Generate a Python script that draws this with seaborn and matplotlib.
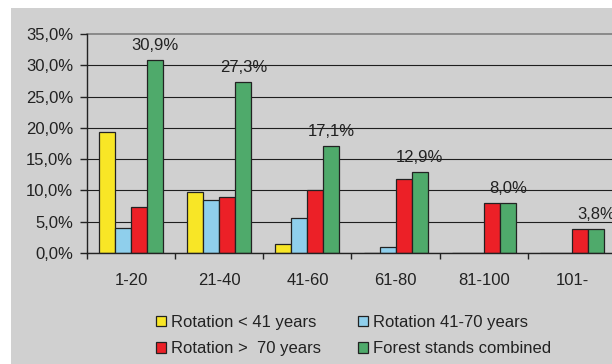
import matplotlib
matplotlib.use("Agg")
import matplotlib.pyplot as plt
import matplotlib.patches as mpatches
from matplotlib.ticker import FuncFormatter, FixedLocator
import seaborn as sns
import pandas as pd
import numpy as np

categories = ["1-20", "21-40", "41-60", "61-80", "81-100", "101-"]
series = ["Rotation < 41 years", "Rotation 41-70 years",
          "Rotation >  70 years", "Forest stands combined"]
rot_lt41 = [19.3, 9.7, 1.4, 0.0, 0.0, 0.0]
rot_41_70 = [4.0, 8.5, 5.6, 1.0, 0.0, 0.0]
rot_gt70 = [7.3, 8.9, 10.0, 11.8, 8.0, 3.8]
combined = [30.9, 27.3, 17.1, 12.9, 8.0, 3.8]
combined_labels = ["30,9%", "27,3%", "17,1%", "12,9%", "8,0%", "3,8%"]
colors = ["#f8e626", "#8fcfec", "#ec2027", "#4faa6b"]

values = [rot_lt41, rot_41_70, rot_gt70, combined]
df = pd.DataFrame({
    "cat": [c for s in series for c in categories],
    "series": [s for s in series for c in categories],
    "val": [v for vals in values for v in vals],
})

sns.set_theme(style="white")
plt.rcParams["font.family"] = ["Liberation Sans", "DejaVu Sans"]
FS = 12
BG = "#d0d0d0"

fig = plt.figure(figsize=(6.12, 3.64), dpi=100)
fig.patch.set_facecolor("white")
fig.patches.append(mpatches.Rectangle((11 / 612, 0), 1, 1 - 8 / 364,
                                      transform=fig.transFigure,
                                      facecolor=BG, edgecolor="none", zorder=-10))

ax = fig.add_axes([87 / 612, 1 - 253 / 364, (616 - 87) / 612, 219 / 364])
ax.set_facecolor(BG)

sns.barplot(data=df, x="cat", y="val", hue="series", order=categories,
            hue_order=series, palette=colors, width=0.727, gap=0,
            saturation=1, edgecolor="#222222", linewidth=0.9,
            legend=False, ax=ax, zorder=3)

ax.set_xlim(-0.5, 5.5)
ax.set_ylim(0, 35)
ax.set_xlabel("")
ax.set_ylabel("")

ax.yaxis.set_major_locator(FixedLocator(np.arange(0, 35.1, 5)))
ax.yaxis.set_major_formatter(FuncFormatter(lambda v, p: f"{v:.1f}".replace(".", ",") + "%"))
ax.xaxis.set_major_locator(FixedLocator(np.arange(-0.5, 6, 1)))
ax.xaxis.set_major_formatter(FuncFormatter(lambda v, p: ""))
ax.xaxis.set_minor_locator(FixedLocator(np.arange(0, 6, 1)))
ax.xaxis.set_minor_formatter(FuncFormatter(lambda v, p: categories[int(round(v))]))

ax.tick_params(axis="y", which="major", direction="out", length=5, width=1,
               color="#222222", pad=5, labelsize=FS, labelcolor="#222222", left=True)
ax.tick_params(axis="x", which="major", direction="out", length=4, width=1,
               color="#222222", bottom=True)
ax.tick_params(axis="x", which="minor", length=0, pad=14.5, labelsize=FS,
               labelcolor="#222222")

for s in ["top", "right"]:
    ax.spines[s].set_visible(False)
for s in ["left", "bottom"]:
    ax.spines[s].set_color("#222222")
    ax.spines[s].set_linewidth(1.0)
    ax.spines[s].set_zorder(5)

ax.set_axisbelow(True)
ax.grid(axis="y", color="#1e1e1e", linewidth=0.8)
ax.grid(axis="x", visible=False)
glines = ax.get_ygridlines()
glines[-1].set_color("#8a8a8a")
glines[-1].set_linewidth(1.4)
glines[-1].set_clip_on(False)

# labels above the combined bars
bar_w = 0.727 / 4
for i, (v, lab) in enumerate(zip(combined, combined_labels)):
    x = i - 0.727 / 2 + bar_w * 3.5
    ax.annotate(lab, (x, v), xytext=(0, 7), textcoords="offset pixels",
                ha="center", va="bottom", fontsize=FS, color="#222222",
                annotation_clip=False)

handles = [mpatches.Patch(facecolor=colors[k], edgecolor="#222222", linewidth=0.9)
           for k in [0, 2, 1, 3]]
labels = [series[k] for k in [0, 2, 1, 3]]
fig.legend(handles, labels, ncol=2, loc="center",
           bbox_to_anchor=(353.5 / 612, 1 - 335.5 / 364), frameon=False,
           fontsize=FS, handlelength=0.6, handleheight=0.6, handletextpad=0.3,
           columnspacing=2.2, labelspacing=0.68, borderpad=0, labelcolor="#222222")

fig.savefig("out.png", dpi=100, facecolor=fig.get_facecolor())
